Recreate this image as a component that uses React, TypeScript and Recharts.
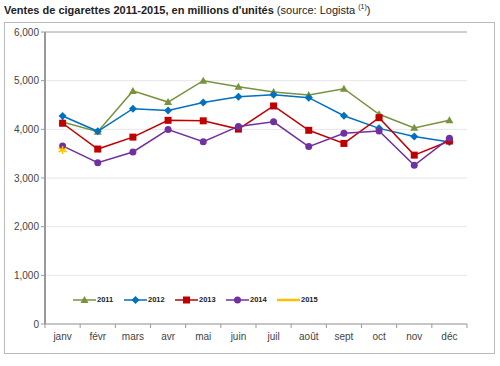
import { CartesianGrid, Legend, Line, LineChart, ReferenceLine, XAxis, YAxis } from "recharts";

const MONTHS = ["janv", "févr", "mars", "avr", "mai", "juin", "juil", "août", "sept", "oct", "nov", "déc"];
const S2011 = [4150, 3950, 4790, 4560, 5000, 4875, 4765, 4705, 4835, 4310, 4030, 4185];
const S2012 = [4275, 3960, 4425, 4385, 4550, 4670, 4710, 4650, 4280, 4020, 3855, 3740];
const S2013 = [4125, 3595, 3840, 4185, 4175, 4005, 4480, 3980, 3710, 4240, 3470, 3760];
const S2014 = [3660, 3315, 3535, 3995, 3745, 4060, 4155, 3645, 3920, 3965, 3260, 3815];
const S2015 = [3575, null, null, null, null, null, null, null, null, null, null, null];
const Y_TICKS = [0, 1000, 2000, 3000, 4000, 5000, 6000];

const SERIES = [
  { key: "y2011", name: "2011", color: "#77933C", shape: "triangle" },
  { key: "y2012", name: "2012", color: "#0070C0", shape: "diamond" },
  { key: "y2013", name: "2013", color: "#C00000", shape: "square" },
  { key: "y2014", name: "2014", color: "#7030A0", shape: "circle" },
  { key: "y2015", name: "2015", color: "#FFC000", shape: "star" },
];

const data = MONTHS.map((m, i) => ({
  month: m,
  y2011: S2011[i],
  y2012: S2012[i],
  y2013: S2013[i],
  y2014: S2014[i],
  y2015: S2015[i],
}));

const FONT = "'Liberation Sans', Arial, sans-serif";

function Marker({ cx, cy, shape, color }: { cx: number; cy: number; shape: string; color: string }) {
  if (cx == null || cy == null) return null;
  if (shape === "triangle")
    return <polygon points={`${cx},${cy - 4} ${cx + 4},${cy + 3} ${cx - 4},${cy + 3}`} fill={color} />;
  if (shape === "diamond")
    return <polygon points={`${cx},${cy - 4} ${cx + 4},${cy} ${cx},${cy + 4} ${cx - 4},${cy}`} fill={color} />;
  if (shape === "square") return <rect x={cx - 3.5} y={cy - 3.5} width={7} height={7} fill={color} />;
  if (shape === "circle") return <circle cx={cx} cy={cy} r={3.5} fill={color} />;
  return (
    <g stroke={color} strokeWidth={1.5}>
      <line x1={cx} y1={cy - 4} x2={cx} y2={cy + 4} />
      <line x1={cx - 4} y1={cy - 2} x2={cx + 4} y2={cy + 2} />
      <line x1={cx - 4} y1={cy + 2} x2={cx + 4} y2={cy - 2} />
    </g>
  );
}

function XTick({ x, y, payload, index }: any) {
  const half = payload?.offset || 17.58;
  return (
    <g>
      <line x1={x - half} y1={y - 8} x2={x - half} y2={y - 4} stroke="#999" />
      {index === MONTHS.length - 1 && <line x1={x + half} y1={y - 8} x2={x + half} y2={y - 4} stroke="#999" />}
      <text x={x} y={y + 8} textAnchor="middle" fontSize={10} fill="#444" fontFamily={FONT}>
        {payload.value}
      </text>
    </g>
  );
}

function LegendBox() {
  return (
    <div style={{ display: "flex", fontFamily: FONT, fontSize: 7.5, fontWeight: "bold", color: "#222" }}>
      {SERIES.map((s) => (
        <div key={s.key} style={{ display: "flex", alignItems: "center", width: 51 }}>
          <svg width={23} height={8}>
            <line x1={0} y1={4} x2={23} y2={4} stroke={s.color} strokeWidth={s.key === "y2015" ? 2.5 : 1.5} />
            {s.key !== "y2015" && <Marker cx={11.5} cy={4} shape={s.shape} color={s.color} />}
          </svg>
          <span style={{ marginLeft: 1 }}>{s.name}</span>
        </div>
      ))}
    </div>
  );
}

export default function App() {
  return (
    <div style={{ position: "absolute", left: 0, top: 0, width: 500, height: 366, background: "#fff", fontFamily: FONT }}>
      <div style={{ position: "absolute", left: 4, top: 3, fontSize: 11, color: "#222", whiteSpace: "nowrap" }}>
        <b>Ventes de cigarettes 2011-2015, en millions d'unités</b> (source: Logista{" "}
        <sup style={{ fontSize: 7 }}>(1)</sup>)
      </div>
      <div style={{ position: "absolute", left: 4, top: 22, width: 491, height: 332, border: "1px solid #bbb", boxSizing: "border-box" }} />
      <div style={{ position: "absolute", left: 0, top: 0 }}>
        <LineChart width={500} height={366} data={data} margin={{ top: 32, right: 33, bottom: 12, left: 0 }}>
          <CartesianGrid vertical={false} stroke="#e6e6e6" />
          <XAxis
            dataKey="month"
            scale="band"
            tick={<XTick />}
            tickLine={false}
            axisLine={{ stroke: "#999" }}
            height={30}
            interval={0}
          />
          <YAxis
            domain={[0, 6000]}
            ticks={Y_TICKS}
            width={45}
            tickFormatter={(v) => v.toLocaleString("en-US")}
            tick={{ fontSize: 10, fill: "#444", fontFamily: FONT }}
            axisLine={{ stroke: "#999", strokeWidth: 2 }}
            tickLine={{ stroke: "#999" }}
            tickSize={4}
          />
          <YAxis yAxisId="r" orientation="right" domain={[0, 6000]} width={0} tick={false} tickLine={false} axisLine={{ stroke: "#aaa" }} />
          <ReferenceLine y={6000} stroke="#aaa" />
          <Legend
            verticalAlign="middle"
            content={<LegendBox />}
            wrapperStyle={{ position: "absolute", left: 73, top: 295, width: 260 }}
          />
          {SERIES.map((s) => (
            <Line
              key={s.key}
              dataKey={s.key}
              name={s.name}
              stroke={s.color}
              strokeWidth={1.5}
              isAnimationActive={false}
              connectNulls={false}
              dot={(p: any) => <Marker key={`${s.key}-${p.index}`} cx={p.cx} cy={p.cy} shape={s.shape} color={s.color} />}
              activeDot={false}
            />
          ))}
        </LineChart>
      </div>
    </div>
  );
}
